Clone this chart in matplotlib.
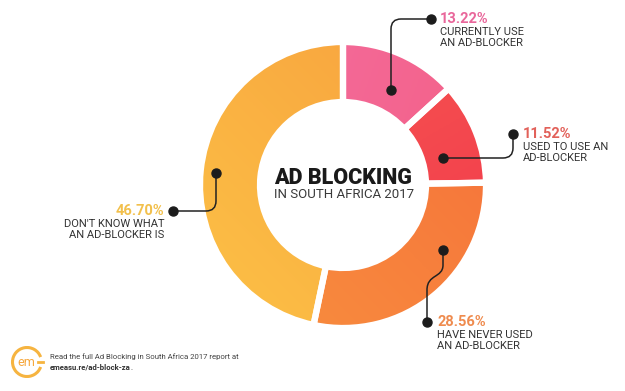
import numpy as np
import matplotlib.pyplot as plt
from matplotlib.colors import LinearSegmentedColormap
from matplotlib.path import Path
from matplotlib.patches import PathPatch, Arc

plt.rcParams['font.family'] = ['Roboto', 'DejaVu Sans']

# Dados
categorias = ["CURRENTLY USE\nAN AD-BLOCKER", "USED TO USE AN\nAD-BLOCKER",
              "HAVE NEVER USED\nAN AD-BLOCKER", "DON'T KNOW WHAT\nAN AD-BLOCKER IS"]
valores = [13.22, 11.52, 28.56, 46.70]
cores_ini = ["#F56FA3", "#F65A52", "#F6703A", "#F8A03E"]
cores_fim = ["#F25E82", "#F2384B", "#F8903F", "#FCC146"]
ang_grad = [-20, -60, 225, 225]   # direcao do degrade (graus)
cores_texto = ["#E9679B", "#E2615A", "#EF8B4E", "#F2C04C"]

W, H = 625, 391
cx, cy = 343, H - 185
R, largura = 143, 60

fig = plt.figure(figsize=(W / 100, H / 100), dpi=100)
ax = fig.add_axes([0, 0, 1, 1])
ax.set_xlim(0, W)
ax.set_ylim(0, H)
ax.set_aspect('equal')
ax.axis('off')

fatias, _ = ax.pie(valores, startangle=90, counterclock=False, radius=R, center=(cx, cy),
                   colors=cores_ini, frame=True,
                   wedgeprops=dict(width=largura, edgecolor='white', linewidth=4.5))

# degrade linear dentro de cada fatia
xx, yy = np.meshgrid(np.linspace(-1, 1, 200), np.linspace(-1, 1, 200))
for f, c0, c1, a in zip(fatias, cores_ini, cores_fim, ang_grad):
    d = np.deg2rad(a)
    t = (xx * np.cos(d) + yy * np.sin(d) + 1.4) / 2.8
    cmap = LinearSegmentedColormap.from_list("g", [c0, c1])
    im = ax.imshow(t, cmap=cmap, vmin=0, vmax=1, origin='lower', aspect='auto',
                   extent=(cx - R, cx + R, cy - R, cy + R), zorder=1, interpolation='bilinear')
    im.set_clip_path(f)
    f.set_facecolor('none')
    f.set_zorder(3)

ax.set_xlim(0, W)
ax.set_ylim(0, H)
ax.axis('off')


def Y(y):  # coordenada em pixels a partir do topo
    return H - y


def linha(pontos, codigos):
    p = Path([(x, Y(y)) for x, y in pontos], codigos)
    ax.add_patch(PathPatch(p, fill=False, edgecolor='#222222', lw=1.1, zorder=5, capstyle='round'))


L, C3, C4, M = Path.LINETO, Path.CURVE3, Path.CURVE4, Path.MOVETO
r = 10
linha([(391, 90), (391, 19 + r), (391, 19), (391 + r, 19), (431, 19)], [M, L, C3, C3, L])
linha([(443, 158), (513 - r, 158), (513, 158), (513, 158 - r), (513, 134)], [M, L, C3, C3, L])
linha([(216, 173), (216, 211 - r), (216, 211), (216 - r, 211), (173, 211)], [M, L, C3, C3, L])
linha([(443, 250), (443, 265), (443, 278), (427, 274), (427, 290), (427, 322)], [M, L, C4, C4, C4, L])

pontos = [(391, 90), (431, 19), (443, 158), (513, 134), (216, 173), (173, 211), (443, 250), (427, 322)]
ax.plot([p[0] for p in pontos], [Y(p[1]) for p in pontos], 'o', color='#1c1c1c', ms=6.5, zorder=6)

# rotulos (mesma ordem dos valores)
pos_rot = [(440, 19, 'left'), (523, 134, 'left'), (437, 322, 'left'), (164, 211, 'right')]
for (x, y, ha), v, cat, ct in zip(pos_rot, valores, categorias, cores_texto):
    ax.text(x, Y(y), f"{v:.2f}%", color=ct, fontsize=10.5, fontweight='bold', ha=ha, va='center')
    ax.text(x, Y(y + 8), cat, color='#333333', fontsize=8, ha=ha, va='top', linespacing=1.15)

# titulo central
ax.text(274, Y(178), "AD BLOCKING", fontsize=15.5, fontweight='heavy', color='#1a1a1a', ha='left', va='center')
ax.text(274, Y(194), "IN SOUTH AFRICA 2017", fontsize=9.5, color='#3a3a3a', ha='left', va='center')

# rodape
ax.add_patch(Arc((27, Y(362)), 29, 29, theta1=20, theta2=340, color='#F6B440', lw=2.2))
ax.plot([38, 43], [Y(362), Y(362)], color='#F6B440', lw=2)
ax.text(26, Y(362), "em", color='#F6A83E', fontsize=9, ha='center', va='center')
ax.text(50, Y(357), "Read the full Ad Blocking in South Africa 2017 report at",
        fontsize=5.6, color='#444444', ha='left', va='center')
t = ax.text(50, Y(367), "emeasu.re/ad-block-za", fontsize=5.6, fontweight='bold', color='#333333',
            ha='left', va='center')
ax.annotate(".", xy=(1, 0), xycoords=t, fontsize=5.6, color='#333333', va='bottom')

fig.savefig("out.png", dpi=100, facecolor='white')
